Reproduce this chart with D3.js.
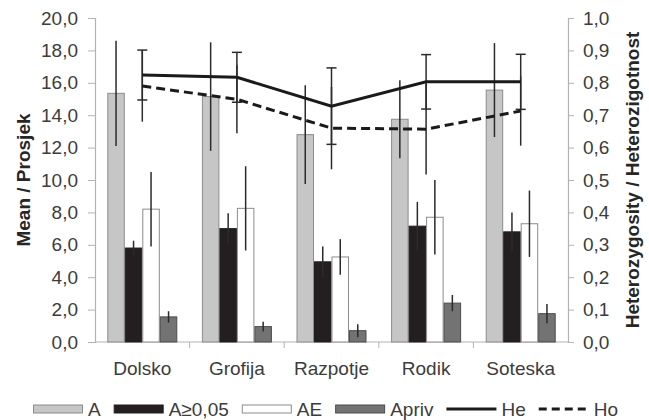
<!DOCTYPE html>
<html>
<head>
<meta charset="utf-8">
<script src="https://cdn.jsdelivr.net/npm/d3@7"></script>
<style>
  html, body { margin: 0; padding: 0; background: #fff; }
  svg { display: block; font-family: "Liberation Sans", Arial, sans-serif; }
</style>
</head>
<body>
<svg id="chart" width="649" height="420"></svg>
<script>
// ---- data ----
const categories = ["Dolsko", "Grofija", "Razpotje", "Rodik", "Soteska"];
const barSeries = ["A", "A≥0,05", "AE", "Apriv"];
const valA      = [15.35, 15.15, 12.8, 13.75, 15.55];
const errA      = [3.25, 3.35, 3.05, 2.4, 2.9];
const valA05    = [5.8, 7.0, 4.95, 7.15, 6.8];
const errA05    = [0.45, 0.95, 0.95, 1.5, 1.2];
const valAE     = [8.2, 8.25, 5.25, 7.7, 7.3];
const errAE     = [2.3, 2.6, 1.1, 2.3, 2.05];
const valApriv  = [1.55, 0.95, 0.7, 2.4, 1.75];
const errApriv  = [0.35, 0.3, 0.4, 0.5, 0.6];
const valHe     = [0.824, 0.817, 0.728, 0.803, 0.803];
const errHe     = [0.077, 0.077, 0.118, 0.084, 0.085];
const valHo     = [0.79, 0.749, 0.66, 0.657, 0.713];
const errHo     = [0.11, 0.105, 0.127, 0.14, 0.107];
const leftTicks  = [0, 2, 4, 6, 8, 10, 12, 14, 16, 18, 20];
const rightTicks = [0, 0.1, 0.2, 0.3, 0.4, 0.5, 0.6, 0.7, 0.8, 0.9, 1.0];
const leftTitle  = "Mean / Prosjek";
const rightTitle = "Heterozygosity / Heterozigotnost";

// ---- styles ----
const barStyle = {
  "A":      { fill: "#c6c6c6", stroke: "#8c8c8c" },
  "A≥0,05": { fill: "#231f20", stroke: "#231f20" },
  "AE":     { fill: "#ffffff", stroke: "#8c8c8c" },
  "Apriv":  { fill: "#737373", stroke: "#4d4d4d" }
};
const barVals = { "A": valA, "A≥0,05": valA05, "AE": valAE, "Apriv": valApriv };
const barErrs = { "A": errA, "A≥0,05": errA05, "AE": errAE, "Apriv": errApriv };

const svg = d3.select("#chart");
const W = 649, H = 420;
const m = { left: 95, right: 81, top: 18, bottom: 78 };
const x0 = m.left, x1 = W - m.right, yTop = m.top, yBot = H - m.bottom;

const loc = d3.formatLocale({ decimal: ",", thousands: ".", grouping: [3], currency: ["", ""] });
const fmt = loc.format(".1f");

const x = d3.scaleBand().domain(categories).range([x0, x1]).paddingInner(0).paddingOuter(0);
const bw = x.bandwidth();
const xs = d3.scaleBand().domain(barSeries).range([bw * 0.13, bw * 0.87]).padding(0);
const yL = d3.scaleLinear().domain([0, 20]).range([yBot, yTop]);
const yR = d3.scaleLinear().domain([0, 1]).range([yBot, yTop]);

const axisColor = "#b3b3b3";
const textColor = "#3c3c3c";
const fontSize = 19;

// left axis
const gL = svg.append("g").attr("transform", `translate(${x0},0)`)
  .call(d3.axisLeft(yL).tickValues(leftTicks).tickFormat(fmt).tickSize(7).tickPadding(10));
// right axis
const gR = svg.append("g").attr("transform", `translate(${x1},0)`)
  .call(d3.axisRight(yR).tickValues(rightTicks).tickFormat(fmt).tickSize(6).tickPadding(9));
// bottom axis
const gB = svg.append("g").attr("transform", `translate(0,${yBot})`)
  .call(d3.axisBottom(x).tickSize(0).tickPadding(20));
// boundary ticks
svg.append("g").selectAll("line").data(categories.slice(1)).join("line")
  .attr("x1", d => x(d)).attr("x2", d => x(d))
  .attr("y1", yBot).attr("y2", yBot + 6)
  .attr("stroke", axisColor).attr("stroke-width", 1);

[gL, gR, gB].forEach(g => {
  g.selectAll("path.domain").attr("stroke", axisColor).attr("stroke-width", 1.2);
  g.selectAll(".tick line").attr("stroke", axisColor).attr("stroke-width", 1);
  g.selectAll("text").attr("fill", textColor).style("font-size", fontSize + "px")
    .style("font-family", '"Liberation Sans", Arial, sans-serif');
});
gB.select("path.domain").attr("d", `M${x0},0H${x1}`);

// axis titles
svg.append("text")
  .attr("transform", `translate(23,${(yTop + yBot) / 2}) rotate(-90)`)
  .attr("text-anchor", "middle").attr("dominant-baseline", "central")
  .attr("font-weight", "bold").attr("font-size", 19).attr("fill", "#262626")
  .text(leftTitle);
svg.append("text")
  .attr("transform", `translate(632,${(yTop + yBot) / 2}) rotate(-90)`)
  .attr("text-anchor", "middle").attr("dominant-baseline", "central")
  .attr("font-weight", "bold").attr("font-size", 19).attr("fill", "#262626")
  .text(rightTitle);

// bars
const barData = [];
categories.forEach((c, i) => barSeries.forEach(s => barData.push({ c, s, v: barVals[s][i], e: barErrs[s][i] })));
const gBars = svg.append("g");
gBars.selectAll("rect").data(barData).join("rect")
  .attr("x", d => x(d.c) + xs(d.s) + 0.5)
  .attr("y", d => yL(d.v))
  .attr("width", xs.bandwidth() - 1)
  .attr("height", d => yBot - yL(d.v))
  .attr("fill", d => barStyle[d.s].fill)
  .attr("stroke", d => barStyle[d.s].stroke)
  .attr("stroke-width", 1);
// bar error bars
gBars.selectAll("line.err").data(barData).join("line").attr("class", "err")
  .attr("x1", d => x(d.c) + xs(d.s) + xs.bandwidth() / 2)
  .attr("x2", d => x(d.c) + xs(d.s) + xs.bandwidth() / 2)
  .attr("y1", d => yL(d.v + d.e)).attr("y2", d => yL(d.v - d.e))
  .attr("stroke", "#2b2b2b").attr("stroke-width", 1.5);

// lines
const cx = c => x(c) + bw / 2;
const lineGen = d3.line().x(d => cx(d.c)).y(d => yR(d.v));
const heData = categories.map((c, i) => ({ c, v: valHe[i], e: errHe[i] }));
const hoData = categories.map((c, i) => ({ c, v: valHo[i], e: errHo[i] }));

// Ho error bars (no caps)
svg.append("g").selectAll("line").data(hoData).join("line")
  .attr("x1", d => cx(d.c)).attr("x2", d => cx(d.c))
  .attr("y1", d => yR(d.v + d.e)).attr("y2", d => yR(d.v - d.e))
  .attr("stroke", "#2b2b2b").attr("stroke-width", 1.5);
// He error bars with caps
const gHeErr = svg.append("g");
gHeErr.selectAll("line.v").data(heData).join("line").attr("class", "v")
  .attr("x1", d => cx(d.c)).attr("x2", d => cx(d.c))
  .attr("y1", d => yR(d.v + d.e)).attr("y2", d => yR(d.v - d.e))
  .attr("stroke", "#2b2b2b").attr("stroke-width", 1.5);
const caps = [];
heData.forEach(d => { caps.push({ c: d.c, v: d.v + d.e }); caps.push({ c: d.c, v: d.v - d.e }); });
gHeErr.selectAll("line.cap").data(caps).join("line").attr("class", "cap")
  .attr("x1", d => cx(d.c) - 5).attr("x2", d => cx(d.c) + 5)
  .attr("y1", d => yR(d.v)).attr("y2", d => yR(d.v))
  .attr("stroke", "#2b2b2b").attr("stroke-width", 1.5);

svg.append("path").datum(hoData).attr("d", lineGen)
  .attr("fill", "none").attr("stroke", "#1a1a1a").attr("stroke-width", 3)
  .attr("stroke-dasharray", "9,5");
svg.append("path").datum(heData).attr("d", lineGen)
  .attr("fill", "none").attr("stroke", "#1a1a1a").attr("stroke-width", 3);

// legend
const legendItems = [
  { name: "A", type: "rect", ...barStyle["A"] },
  { name: "A≥0,05", type: "rect", ...barStyle["A≥0,05"] },
  { name: "AE", type: "rect", ...barStyle["AE"] },
  { name: "Apriv", type: "rect", ...barStyle["Apriv"] },
  { name: "He", type: "line", dash: null },
  { name: "Ho", type: "line", dash: "8,5" }
];
const gLeg = svg.append("g");
let lx = 33;
const ly = 409;
legendItems.forEach(it => {
  if (it.type === "rect") {
    gLeg.append("rect").attr("x", lx + 0.5).attr("y", ly - 4).attr("width", 49).attr("height", 8)
      .attr("fill", it.fill).attr("stroke", it.stroke).attr("stroke-width", 1);
  } else {
    gLeg.append("line").attr("x1", lx).attr("x2", lx + 50).attr("y1", ly).attr("y2", ly)
      .attr("stroke", "#1a1a1a").attr("stroke-width", 3)
      .attr("stroke-dasharray", it.dash);
  }
  const t = gLeg.append("text").attr("x", lx + 55).attr("y", ly).attr("dominant-baseline", "central")
    .attr("font-size", fontSize).attr("fill", textColor).text(it.name);
  lx += 55 + t.node().getComputedTextLength() + 13;
});
</script>
</body>
</html>
